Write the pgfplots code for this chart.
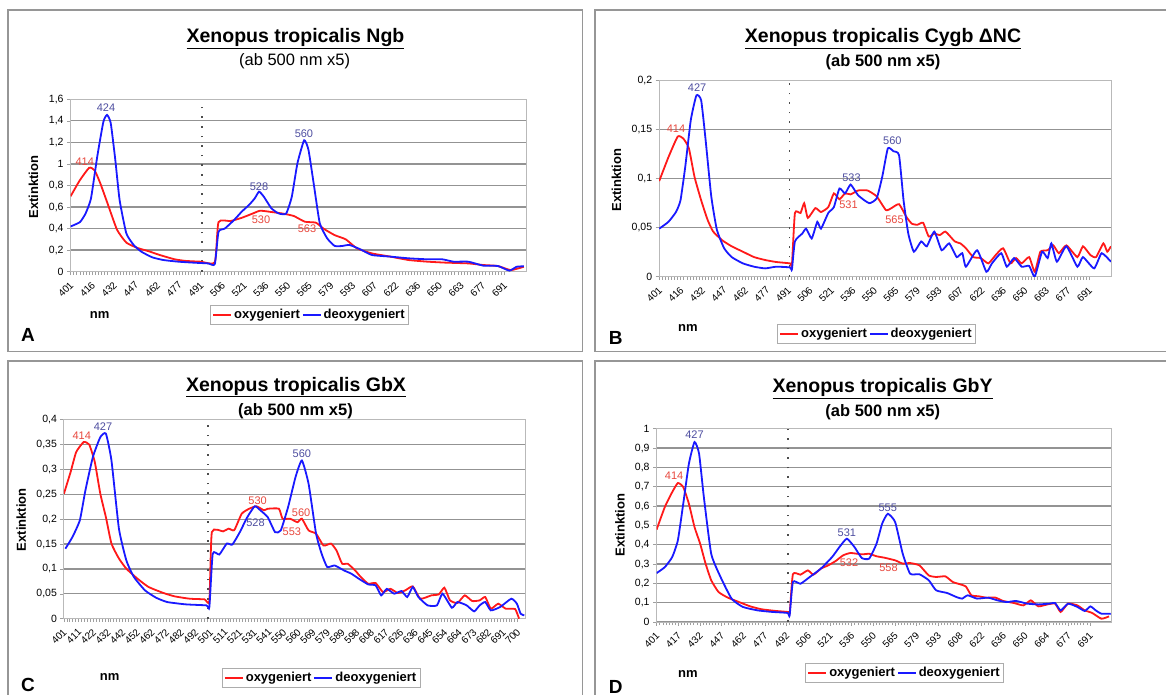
\documentclass[border=0pt]{standalone}
\usepackage{fontspec}
\setmainfont{Liberation Sans}
\usepackage{pgfplots}
\pgfplotsset{compat=1.18}
\definecolor{lred}{RGB}{255,25,25}
\definecolor{lblue}{RGB}{25,25,255}
\definecolor{pred}{RGB}{232,72,62}
\definecolor{pblue}{RGB}{78,78,160}
\definecolor{frame}{RGB}{150,150,150}
\pgfplotsset{
  panel/.style={
    scale only axis, anchor=south west,
    ymin=0, xmin=0,
    axis line style={draw=gray!55, line width=0.8pt},
    ymajorgrids,
    major grid style={draw=gray!85, line width=1.3pt},
    tick align=outside, tick pos=left,
    major tick length=3.5pt, minor tick length=3pt,
    every tick/.style={draw=gray!75, line width=0.6pt},
    x tick label style={rotate=45, anchor=north east, yshift=-2pt, xshift=-4pt, inner sep=1pt, font=\fontsize{10}{11}\selectfont},
    y tick label style={font=\fontsize{10.5}{11}\selectfont},
    /pgf/number format/assume math mode=true,
    yticklabel style={/pgf/number format/.cd, fixed, use comma, precision=2},
    scaled y ticks=false,
    legend style={draw=gray!65, line width=0.8pt, font=\fontsize{13}{14}\selectfont\bfseries, inner sep=2pt, anchor=center},
    legend columns=2,
    legend image code/.code={\draw[#1] (0pt,0pt) -- (18pt,0pt);},
    legend cell align=left,
  },
  oxy/.style={lred, line width=1.8pt, mark=none, smooth, tension=0.3},
  deo/.style={lblue, line width=1.8pt, mark=none, smooth, tension=0.3},
  split/.style={black!70, line width=1.5pt, dash pattern=on 1.6pt off 8pt, forget plot},
}
\tikzset{
  pr/.style={text=pred, font=\fontsize{11}{12}\selectfont},
  pb/.style={text=pblue, font=\fontsize{11}{12}\selectfont},
}
\newcommand{\ttl}[1]{\fontsize{19.5}{21}\selectfont\bfseries\underline{#1}}
\newcommand{\lab}{\fontsize{13}{14}\selectfont\bfseries}
\newcommand{\sub}{\fontsize{16.5}{18}\selectfont}
\begin{document}
\begin{tikzpicture}
\useasboundingbox (0,0) rectangle (1166pt,694pt);
\clip (0,0) rectangle (1166pt,694pt);
\fill[white] (0,0) rectangle (1166pt,694pt);
% panel frames
\draw[frame, line width=1.5pt] (8pt,342.3pt) rectangle (582.7pt,684pt);
\draw[frame, line width=1.5pt] (595pt,342.3pt) rectangle (1180pt,684pt);
\draw[frame, line width=1.5pt] (8pt,-8pt) rectangle (582.7pt,333pt);
\draw[frame, line width=1.5pt] (595pt,-8pt) rectangle (1180pt,333pt);

% ---------------- A ----------------
\begin{axis}[panel, at={(70.6pt,422.3pt)}, width=455.4pt, height=172.4pt,
  xmax=21, ymax=1.6, ytick={0,0.2,0.4,0.6,0.8,1,1.2,1.4,1.6},
  xtick={0,...,20}, minor x tick num=6,
  xticklabels={401,416,432,447,462,477,491,506,521,536,550,565,579,593,607,622,636,650,663,677,691},
  legend style={at={(0.5246,-0.251)}}]
\addplot[split] coordinates {(6.05,0) (6.05,1.6)};
\addplot[oxy] coordinates {(0,0.70)(0.43,0.85)(0.86,0.965)(1.11,0.94)(1.37,0.82)(1.71,0.63)(2.14,0.39)(2.57,0.27)(3.09,0.22)(3.6,0.19)(4.11,0.155)(4.8,0.115)(5.31,0.10)(6.0,0.093)(6.65,0.087)(6.82,0.46)(7.37,0.47)(7.89,0.50)(8.4,0.54)(8.74,0.566)(9.26,0.554)(9.77,0.54)(10.29,0.517)(10.8,0.464)(11.31,0.455)(11.66,0.40)(12.17,0.34)(12.69,0.30)(13.2,0.217)(13.89,0.17)(14.74,0.14)(15.6,0.108)(16.46,0.093)(17.3,0.084)(18.34,0.077)(19.03,0.062)(19.7,0.053)(20.3,0.015)(20.9,0.046)};
\addlegendentry{oxygeniert}
\addplot[deo] coordinates {(0,0.42)(0.43,0.46)(0.69,0.54)(0.94,0.68)(1.23,1.07)(1.51,1.39)(1.68,1.455)(1.85,1.38)(2.06,1.04)(2.26,0.665)(2.57,0.356)(2.91,0.248)(3.26,0.186)(3.77,0.133)(4.29,0.108)(4.97,0.093)(5.66,0.084)(6.34,0.077)(6.65,0.071)(6.82,0.37)(7.11,0.40)(7.54,0.48)(7.89,0.557)(8.23,0.62)(8.49,0.68)(8.69,0.743)(8.91,0.696)(9.26,0.588)(9.6,0.54)(9.94,0.54)(10.2,0.696)(10.46,1.006)(10.77,1.22)(10.97,1.13)(11.23,0.79)(11.49,0.45)(11.83,0.31)(12.17,0.24)(12.5,0.238)(12.86,0.248)(13.37,0.207)(13.89,0.155)(14.74,0.14)(15.6,0.124)(16.46,0.115)(17.14,0.115)(17.66,0.093)(18.34,0.093)(19.03,0.056)(19.7,0.053)(20.23,0.01)(20.57,0.046)(20.9,0.05)};
\addlegendentry{deoxygeniert}
\node[pb] at (axis cs:1.63,1.52) {424};
\node[pr] at (axis cs:0.65,1.02) {414};
\node[pb] at (axis cs:8.69,0.79) {528};
\node[pb] at (axis cs:10.76,1.28) {560};
\node[pr] at (axis cs:8.78,0.48) {530};
\node[pr] at (axis cs:10.9,0.40) {563};
\end{axis}

% ---------------- B ----------------
\begin{axis}[panel, at={(659.2pt,417.3pt)}, width=451.7pt, height=196pt,
  xmax=21, ymax=0.2, ytick={0,0.05,0.1,0.15,0.2},
  xtick={0,...,20}, minor x tick num=6,
  xticklabels={401,416,432,447,462,477,491,506,521,536,550,565,579,593,607,622,636,650,663,677,691},
  legend style={at={(0.481,-0.292)}}]
\addplot[split] coordinates {(6.05,0) (6.05,0.2)};
\addplot[oxy] coordinates {(0,0.0976)(0.43,0.122)(0.86,0.143)(1.12,0.141)(1.38,0.131)(1.64,0.102)(1.95,0.078)(2.25,0.058)(2.51,0.046)(2.94,0.037)(3.37,0.031)(3.89,0.0255)(4.41,0.020)(4.93,0.017)(5.44,0.015)(6.08,0.0136)(6.17,0.012)(6.31,0.065)(6.57,0.065)(6.74,0.075)(6.91,0.060)(7.26,0.070)(7.52,0.066)(7.86,0.071)(8.12,0.085)(8.38,0.079)(8.64,0.085)(8.9,0.084)(9.25,0.088)(9.68,0.088)(10.11,0.082)(10.54,0.068)(10.8,0.070)(11.15,0.074)(11.49,0.061)(11.75,0.054)(12.0,0.053)(12.27,0.055)(12.53,0.041)(12.79,0.044)(13.05,0.0425)(13.31,0.046)(13.74,0.036)(14.0,0.034)(14.26,0.029)(14.6,0.020)(14.95,0.019)(15.3,0.0136)(15.64,0.022)(15.99,0.029)(16.33,0.0136)(16.59,0.019)(16.85,0.0136)(17.2,0.020)(17.46,0.005)(17.72,0.0255)(18.06,0.027)(18.32,0.032)(18.58,0.024)(18.93,0.032)(19.44,0.020)(19.7,0.031)(20.05,0.022)(20.31,0.020)(20.65,0.034)(20.83,0.0255)(21.0,0.031)};
\addlegendentry{oxygeniert}
\addplot[deo] coordinates {(0,0.049)(0.43,0.056)(0.78,0.066)(0.99,0.078)(1.21,0.112)(1.47,0.160)(1.73,0.185)(1.95,0.180)(2.16,0.139)(2.42,0.082)(2.68,0.048)(3.02,0.029)(3.37,0.020)(3.89,0.0136)(4.41,0.0102)(4.93,0.0085)(5.44,0.0102)(6.08,0.0095)(6.17,0.0075)(6.31,0.036)(6.65,0.044)(6.83,0.049)(7.09,0.039)(7.35,0.056)(7.52,0.049)(7.86,0.065)(8.12,0.071)(8.38,0.090)(8.64,0.085)(8.9,0.094)(9.25,0.083)(9.76,0.075)(10.11,0.080)(10.37,0.102)(10.63,0.131)(10.89,0.128)(11.15,0.124)(11.36,0.078)(11.58,0.044)(11.84,0.0255)(12.18,0.036)(12.44,0.031)(12.79,0.046)(13.13,0.027)(13.48,0.034)(13.83,0.020)(14.09,0.024)(14.26,0.0102)(14.78,0.027)(15.21,0.005)(15.47,0.0136)(15.9,0.024)(16.16,0.0102)(16.5,0.019)(16.85,0.0102)(17.2,0.011)(17.46,0.0)(17.8,0.0255)(18.06,0.019)(18.23,0.034)(18.49,0.0153)(18.93,0.031)(19.44,0.0102)(19.7,0.020)(20.22,0.0085)(20.57,0.024)(21.0,0.0153)};
\addlegendentry{deoxygeniert}
\node[pb] at (axis cs:1.76,0.193) {427};
\node[pr] at (axis cs:0.78,0.151) {414};
\node[pb] at (axis cs:8.94,0.101) {533};
\node[pb] at (axis cs:10.84,0.139) {560};
\node[pr] at (axis cs:8.8,0.073) {531};
\node[pr] at (axis cs:10.94,0.058) {565};
\end{axis}

% ---------------- C ----------------
\begin{axis}[panel, at={(63.9pt,75.3pt)}, width=461pt, height=199pt,
  xmax=31.5, ymax=0.4, ytick={0,0.05,0.1,0.15,0.2,0.25,0.3,0.35,0.4},
  xtick={0,...,31}, minor x tick num=4,
  xticklabels={401,411,422,432,442,452,462,472,482,492,501,511,521,531,541,550,560,569,579,589,598,608,617,626,636,645,654,664,673,682,691,700},
  legend style={at={(0.558,-0.298)}}]
\addplot[split] coordinates {(9.86,0) (9.86,0.4)};
\addplot[oxy] coordinates {(0,0.251)(0.46,0.295)(0.84,0.335)(1.35,0.355)(1.73,0.350)(2.11,0.315)(2.49,0.251)(2.87,0.204)(3.25,0.151)(3.76,0.121)(4.27,0.1005)(5.03,0.0804)(5.79,0.0637)(6.81,0.0516)(7.57,0.0449)(8.59,0.0402)(9.61,0.0389)(9.94,0.0355)(10.11,0.174)(10.88,0.1755)(11.26,0.181)(11.64,0.178)(12.15,0.211)(12.66,0.221)(13.16,0.226)(13.67,0.218)(13.93,0.221)(14.69,0.221)(14.94,0.201)(15.45,0.201)(15.96,0.194)(16.26,0.201)(16.72,0.1775)(17.23,0.171)(17.74,0.147)(18.25,0.151)(18.63,0.137)(19.01,0.1106)(19.39,0.1106)(19.9,0.097)(20.28,0.084)(20.79,0.0704)(21.3,0.0717)(21.8,0.0536)(22.31,0.060)(22.82,0.0516)(23.33,0.057)(23.84,0.065)(24.35,0.0402)(25.11,0.0469)(25.62,0.0489)(26.0,0.0623)(26.38,0.0369)(26.89,0.0315)(27.39,0.0469)(27.9,0.0355)(28.41,0.0369)(28.79,0.0436)(29.17,0.0201)(29.68,0.0302)(30.19,0.0201)(30.83,0.0194)(31.1,0.0)};
\addlegendentry{oxygeniert}
\addplot[deo] coordinates {(0.1,0.1407)(0.58,0.164)(1.09,0.198)(1.47,0.258)(1.98,0.325)(2.49,0.365)(2.87,0.372)(3.25,0.318)(3.76,0.181)(4.27,0.117)(4.78,0.084)(5.54,0.057)(6.3,0.0422)(7.06,0.0335)(8.34,0.0288)(9.73,0.0268)(9.94,0.0235)(10.17,0.1307)(10.62,0.129)(11.13,0.151)(11.51,0.149)(12.02,0.174)(12.53,0.204)(13.04,0.226)(13.42,0.218)(13.93,0.204)(14.43,0.174)(14.82,0.1775)(15.32,0.2245)(15.83,0.285)(16.26,0.318)(16.72,0.271)(17.23,0.171)(17.61,0.1307)(17.99,0.104)(18.5,0.107)(19.14,0.097)(19.64,0.0905)(20.15,0.0804)(20.79,0.069)(21.3,0.067)(21.68,0.0469)(22.06,0.060)(22.57,0.0503)(23.07,0.0556)(23.46,0.0436)(23.84,0.0637)(24.22,0.0436)(24.85,0.0268)(25.49,0.0268)(25.87,0.0503)(26.51,0.0221)(26.89,0.0335)(27.52,0.0268)(28.03,0.0147)(28.41,0.0268)(28.79,0.0335)(29.17,0.0168)(29.81,0.0235)(30.57,0.0402)(30.95,0.0302)(31.21,0.010)(31.46,0.0067)};
\addlegendentry{deoxygeniert}
\node[pr] at (axis cs:1.22,0.3685) {414};
\node[pb] at (axis cs:2.67,0.3866) {427};
\node[pb] at (axis cs:16.26,0.3317) {560};
\node[pr] at (axis cs:13.24,0.2379) {530};
\node[pr] at (axis cs:16.21,0.2124) {560};
\node[pb] at (axis cs:13.09,0.1936) {528};
\node[pr] at (axis cs:15.58,0.1742) {553};
\end{axis}

% ---------------- D ----------------
\begin{axis}[panel, at={(656.6pt,72pt)}, width=455pt, height=193.3pt,
  xmax=21, ymax=1, ytick={0,0.1,0.2,0.3,0.4,0.5,0.6,0.7,0.8,0.9,1},
  xtick={0,...,20}, minor x tick num=6,
  xticklabels={401,417,432,447,462,477,492,506,521,536,550,565,579,593,608,622,636,650,664,677,691},
  legend style={at={(0.545,-0.264)}}]
\addplot[split] coordinates {(6.07,0) (6.07,1)};
\addplot[oxy] coordinates {(0,0.478)(0.38,0.595)(0.72,0.672)(0.98,0.719)(1.23,0.698)(1.49,0.612)(1.75,0.491)(2.01,0.405)(2.26,0.302)(2.52,0.216)(2.86,0.155)(3.29,0.126)(3.81,0.103)(4.32,0.081)(4.84,0.066)(5.52,0.057)(6.04,0.052)(6.14,0.043)(6.29,0.247)(6.64,0.245)(6.98,0.267)(7.24,0.245)(7.58,0.276)(7.92,0.293)(8.27,0.316)(8.61,0.345)(8.95,0.357)(9.47,0.35)(9.81,0.353)(10.15,0.34)(10.5,0.333)(11.01,0.319)(11.36,0.302)(11.7,0.305)(12.13,0.293)(12.56,0.241)(12.9,0.233)(13.33,0.236)(13.67,0.207)(14.01,0.195)(14.27,0.184)(14.53,0.138)(14.87,0.133)(15.21,0.126)(15.64,0.126)(15.99,0.109)(16.5,0.098)(16.93,0.086)(17.27,0.112)(17.62,0.081)(18.04,0.091)(18.39,0.095)(18.65,0.052)(18.99,0.095)(19.42,0.086)(19.76,0.060)(20.1,0.047)(20.53,0.017)(20.88,0.029)};
\addlegendentry{oxygeniert}
\addplot[deo] coordinates {(0,0.253)(0.38,0.284)(0.72,0.336)(0.98,0.422)(1.23,0.612)(1.49,0.819)(1.75,0.931)(1.96,0.871)(2.18,0.647)(2.52,0.353)(2.95,0.233)(3.46,0.121)(3.98,0.078)(4.67,0.060)(5.35,0.052)(6.04,0.047)(6.14,0.034)(6.29,0.207)(6.64,0.198)(7.07,0.233)(7.58,0.276)(8.1,0.336)(8.44,0.388)(8.78,0.431)(9.13,0.388)(9.47,0.331)(9.81,0.328)(10.15,0.405)(10.41,0.509)(10.67,0.560)(11.01,0.517)(11.36,0.353)(11.7,0.25)(12.13,0.247)(12.56,0.216)(12.9,0.164)(13.41,0.150)(13.84,0.129)(14.1,0.121)(14.36,0.138)(14.79,0.121)(15.3,0.126)(15.73,0.112)(16.16,0.103)(16.59,0.109)(17.1,0.095)(17.62,0.091)(18.13,0.095)(18.39,0.098)(18.65,0.060)(18.99,0.095)(19.42,0.078)(19.76,0.057)(20.02,0.081)(20.27,0.060)(20.53,0.043)(20.96,0.043)};
\addlegendentry{deoxygeniert}
\node[pr] at (axis cs:0.81,0.755) {414};
\node[pb] at (axis cs:1.75,0.971) {427};
\node[pb] at (axis cs:8.78,0.464) {531};
\node[pb] at (axis cs:10.67,0.591) {555};
\node[pr] at (axis cs:8.88,0.305) {532};
\node[pr] at (axis cs:10.7,0.281) {558};
\end{axis}

% titles and labels
\node[anchor=base] at (295.5pt,651.7pt) {\ttl{Xenopus tropicalis Ngb}};
\node at (294.6pt,632.5pt) {\sub (ab 500 nm x5)};
\node[anchor=base] at (883pt,651.7pt) {\ttl{Xenopus tropicalis Cygb ΔNC}};
\node at (883pt,632pt) {\sub\bfseries (ab 500 nm x5)};
\node[anchor=base] at (296pt,303pt) {\ttl{Xenopus tropicalis GbX}};
\node at (295.5pt,283pt) {\sub\bfseries (ab 500 nm x5)};
\node[anchor=base] at (882.6pt,301.3pt) {\ttl{Xenopus tropicalis GbY}};
\node at (882.8pt,282pt) {\sub\bfseries (ab 500 nm x5)};

\node[rotate=90] at (33.5pt,507pt) {\lab Extinktion};
\node[rotate=90] at (616.5pt,514pt) {\lab Extinktion};
\node[rotate=90] at (21.2pt,174.3pt) {\lab Extinktion};
\node[rotate=90] at (620pt,169pt) {\lab Extinktion};

\node at (99.6pt,379pt) {\lab nm};
\node at (687.8pt,366pt) {\lab nm};
\node at (109.7pt,17pt) {\lab nm};
\node at (687.8pt,20.3pt) {\lab nm};

\node at (28pt,359pt) {\fontsize{19}{20}\selectfont\bfseries A};
\node at (615.7pt,356pt) {\fontsize{19}{20}\selectfont\bfseries B};
\node at (27.9pt,8.7pt) {\fontsize{19}{20}\selectfont\bfseries C};
\node at (615.7pt,7pt) {\fontsize{19}{20}\selectfont\bfseries D};
\end{tikzpicture}
\end{document}
